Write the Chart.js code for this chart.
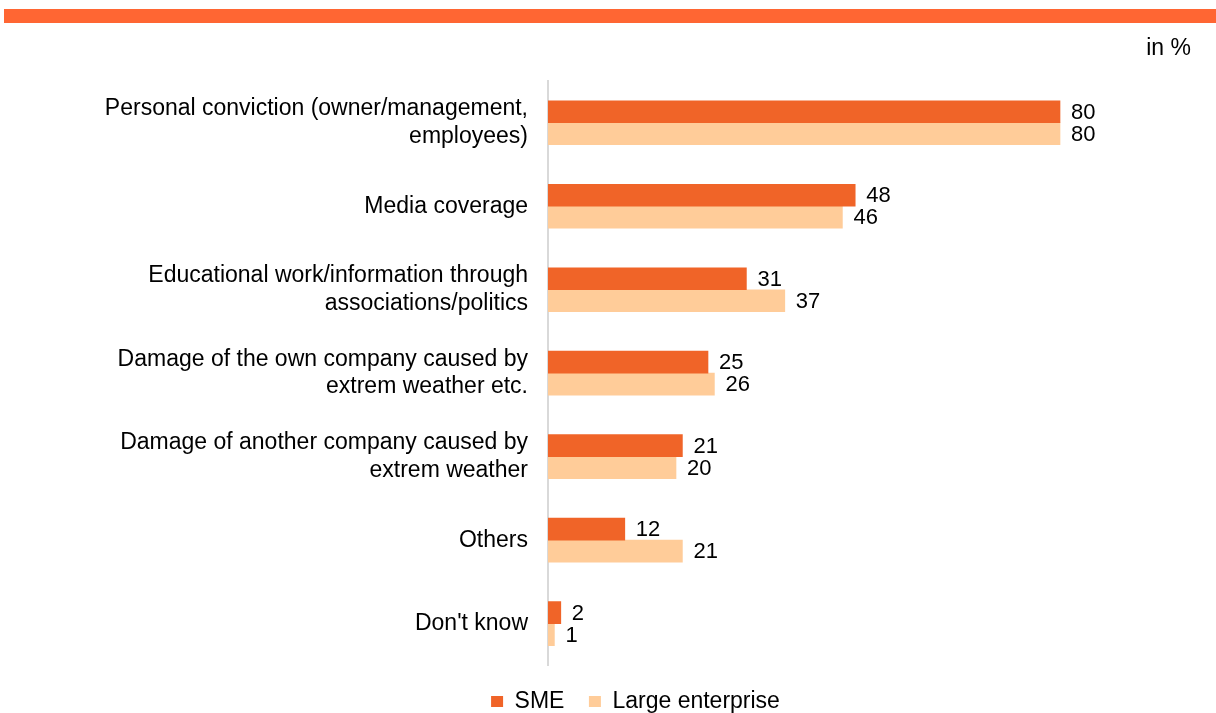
<!DOCTYPE html>
<html>
<head>
<meta charset="utf-8">
<script src="https://cdn.jsdelivr.net/npm/chart.js@4"></script>
<style>
  html, body { margin: 0; padding: 0; background: #fff; }
  #wrap { width: 1216px; height: 713px; position: relative; }
</style>
</head>
<body>
<div id="wrap"><canvas id="reasons"></canvas></div>
<script>
var categories = [
    ['Personal conviction (owner/management,', 'employees)'],
    'Media coverage',
    ['Educational work/information through', 'associations/politics'],
    ['Damage of the own company caused by', 'extrem weather etc.'],
    ['Damage of another company caused by', 'extrem weather'],
    'Others',
    "Don't know"
];
var smeValues = [80, 48, 31, 25, 21, 12, 2];
var largeValues = [80, 46, 37, 26, 20, 21, 1];

var FONT = '"Liberation Sans", Arial, sans-serif';
var PAD_LEFT = 83;

// orange strip at the top and the unit note
var frame = {
    id: 'frame',
    beforeDraw: function (chart) {
        var ctx = chart.ctx;
        ctx.save();
        ctx.fillStyle = '#FF6633';
        ctx.fillRect(4, 9, 1212, 14);
        ctx.fillStyle = '#000';
        ctx.font = '23px ' + FONT;
        ctx.textAlign = 'right';
        ctx.textBaseline = 'middle';
        ctx.fillText('in %', 1191, 49);
        ctx.restore();
    }
};

// value next to the end of each bar
var valueLabels = {
    id: 'valueLabels',
    afterDatasetsDraw: function (chart) {
        var ctx = chart.ctx;
        ctx.save();
        ctx.fillStyle = '#000';
        ctx.font = '22px ' + FONT;
        ctx.textAlign = 'left';
        ctx.textBaseline = 'middle';
        chart.data.datasets.forEach(function (ds, i) {
            chart.getDatasetMeta(i).data.forEach(function (bar, j) {
                ctx.fillText(ds.data[j], bar.x + 11, bar.y + 1);
            });
        });
        ctx.restore();
    }
};

new Chart(document.getElementById('reasons'), {
    type: 'bar',
    data: {
        labels: categories,
        datasets: [
            {
                label: 'SME',
                data: smeValues,
                backgroundColor: '#F06428',
                barThickness: 22
            },
            {
                label: 'Large enterprise',
                data: largeValues,
                backgroundColor: '#FFCC99',
                barThickness: 22
            }
        ]
    },
    options: {
        indexAxis: 'y',
        responsive: true,
        maintainAspectRatio: false,
        animation: false,
        layout: { padding: { top: 81, right: 28, bottom: -24, left: PAD_LEFT } },
        scales: {
            x: {
                display: false,
                min: 0,
                max: 100
            },
            y: {
                grid: { display: false, drawTicks: false },
                border: { color: '#D9D9D9', width: 2 },
                afterFit: function (axis) { axis.width = 548 - PAD_LEFT; },
                ticks: {
                    color: '#000',
                    padding: 20,
                    font: { family: FONT, size: 23, lineHeight: 1.2 }
                }
            }
        },
        plugins: {
            legend: {
                position: 'bottom',
                labels: {
                    color: '#000',
                    boxWidth: 12,
                    boxHeight: 11,
                    padding: 24.5,
                    font: { family: FONT, size: 23 }
                }
            },
            tooltip: { enabled: false }
        }
    },
    plugins: [frame, valueLabels]
});
</script>
</body>
</html>
